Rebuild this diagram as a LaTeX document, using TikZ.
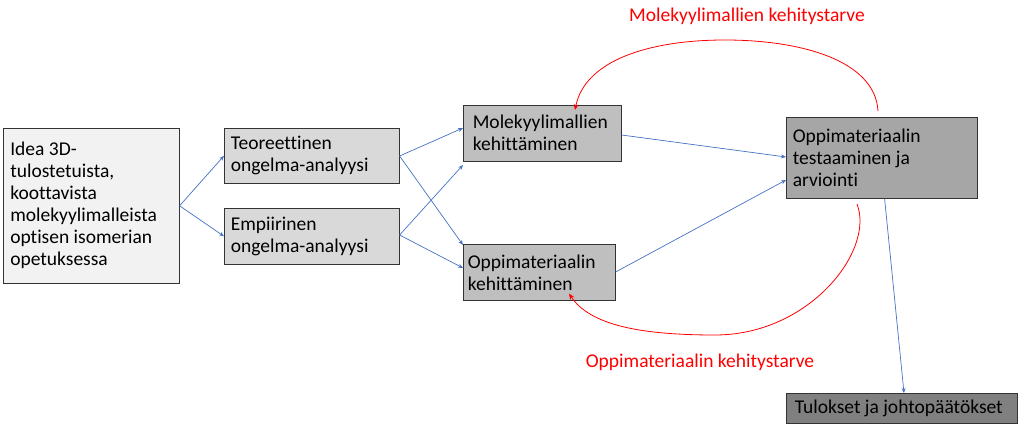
\documentclass[tikz,border=0pt]{standalone}
\usepackage{fontspec}
\setmainfont{Carlito}[RawFeature=-liga]
\usetikzlibrary{arrows.meta}
\definecolor{bl}{HTML}{4472C4}
\begin{document}
\begin{tikzpicture}[x=1pt,y=-1pt,
 box/.style={draw=black!80,line width=0.6pt,anchor=north west,inner sep=0pt,align=left,font=\fontsize{19.5}{22}\selectfont},
 con/.style={bl,line width=0.7pt,-{Stealth[length=5pt,width=4pt]}},
 redarc/.style={red,line width=0.8pt,-{Stealth[length=6pt,width=5pt]}},
 lab/.style={red,font=\fontsize{19.5}{22}\selectfont}]
\useasboundingbox (0,0) rectangle (1023,428);
\node[box,fill=black!5,minimum width=176pt,minimum height=155pt] (idea) at (3,128)
 {\hspace*{6pt}\parbox{168pt}{Idea 3D-\\tulostetuista,\\koottavista\\molekyylimalleista\\optisen isomerian\\opetuksessa}};
\node[box,fill=black!15,minimum width=175pt,minimum height=55pt] (teo) at (224,128)
 {\hspace*{6pt}\parbox{168pt}{Teoreettinen\\ongelma-analyysi}};
\node[box,fill=black!15,minimum width=175pt,minimum height=56pt] (emp) at (224,208)
 {\hspace*{6pt}\parbox{168pt}{Empiirinen\\ongelma-analyysi}};
\node[box,fill=black!25,minimum width=158pt,minimum height=56pt] (mol) at (463,105)
 {\hspace*{9pt}\parbox{148pt}{Molekyylimallien\\kehittäminen}};
\node[box,fill=black!25,minimum width=152pt,minimum height=56pt] (opp) at (463,244)
 {\hspace*{4pt}\parbox{147pt}{Oppimateriaalin\\kehittäminen}};
\node[box,fill=black!35,minimum width=191pt,minimum height=81pt] (test) at (786,117)
 {\hspace*{6pt}\parbox{184pt}{Oppimateriaalin\\testaaminen ja\\arviointi}};
\node[box,fill=black!50,minimum width=231pt,minimum height=30pt] (tul) at (786,393)
 {\hspace*{8pt}\parbox{222pt}{Tulokset ja johtopäätökset}};
\draw[con] (idea.east) -- (teo.west);
\draw[con] (idea.east) -- (emp.west);
\draw[con] ([yshift=-28pt]teo.north east) -- ([yshift=-23pt]mol.north west);
\draw[con] ([yshift=-28pt]teo.north east) -- ([yshift=-1pt]opp.north west);
\draw[con] ([yshift=-27pt]emp.north east) -- ([yshift=-60pt]mol.north west);
\draw[con] ([yshift=-27pt]emp.north east) -- ([yshift=-24pt]opp.north west);
\draw[con] ([yshift=-30pt]mol.north east) -- ([yshift=-40pt]test.north west);
\draw[con] ([yshift=-28pt]opp.north east) -- ([yshift=-63pt]test.north west);
\draw[con] ([xshift=-93pt]test.south east) -- ([xshift=118pt]tul.north west);
\coordinate (t1) at (878,111);
\coordinate (t2) at (857,204);
\draw[redarc] (t1) .. controls (875,60) and (800,40) .. (725,40) .. controls (650,40) and (585,60) .. ([xshift=112pt,yshift=-5pt]mol.north west);
\draw[redarc] (t2) .. controls (875,250) and (810,335) .. (715,335) .. controls (640,335) and (590,325) .. ([xshift=106pt,yshift=7pt]opp.south west);
\node[lab] (l1) at (747,16) {Molekyylimallien kehitystarve};
\node[lab] (l2) at (700,362) {Oppimateriaalin kehitystarve};
\end{tikzpicture}
\end{document}
